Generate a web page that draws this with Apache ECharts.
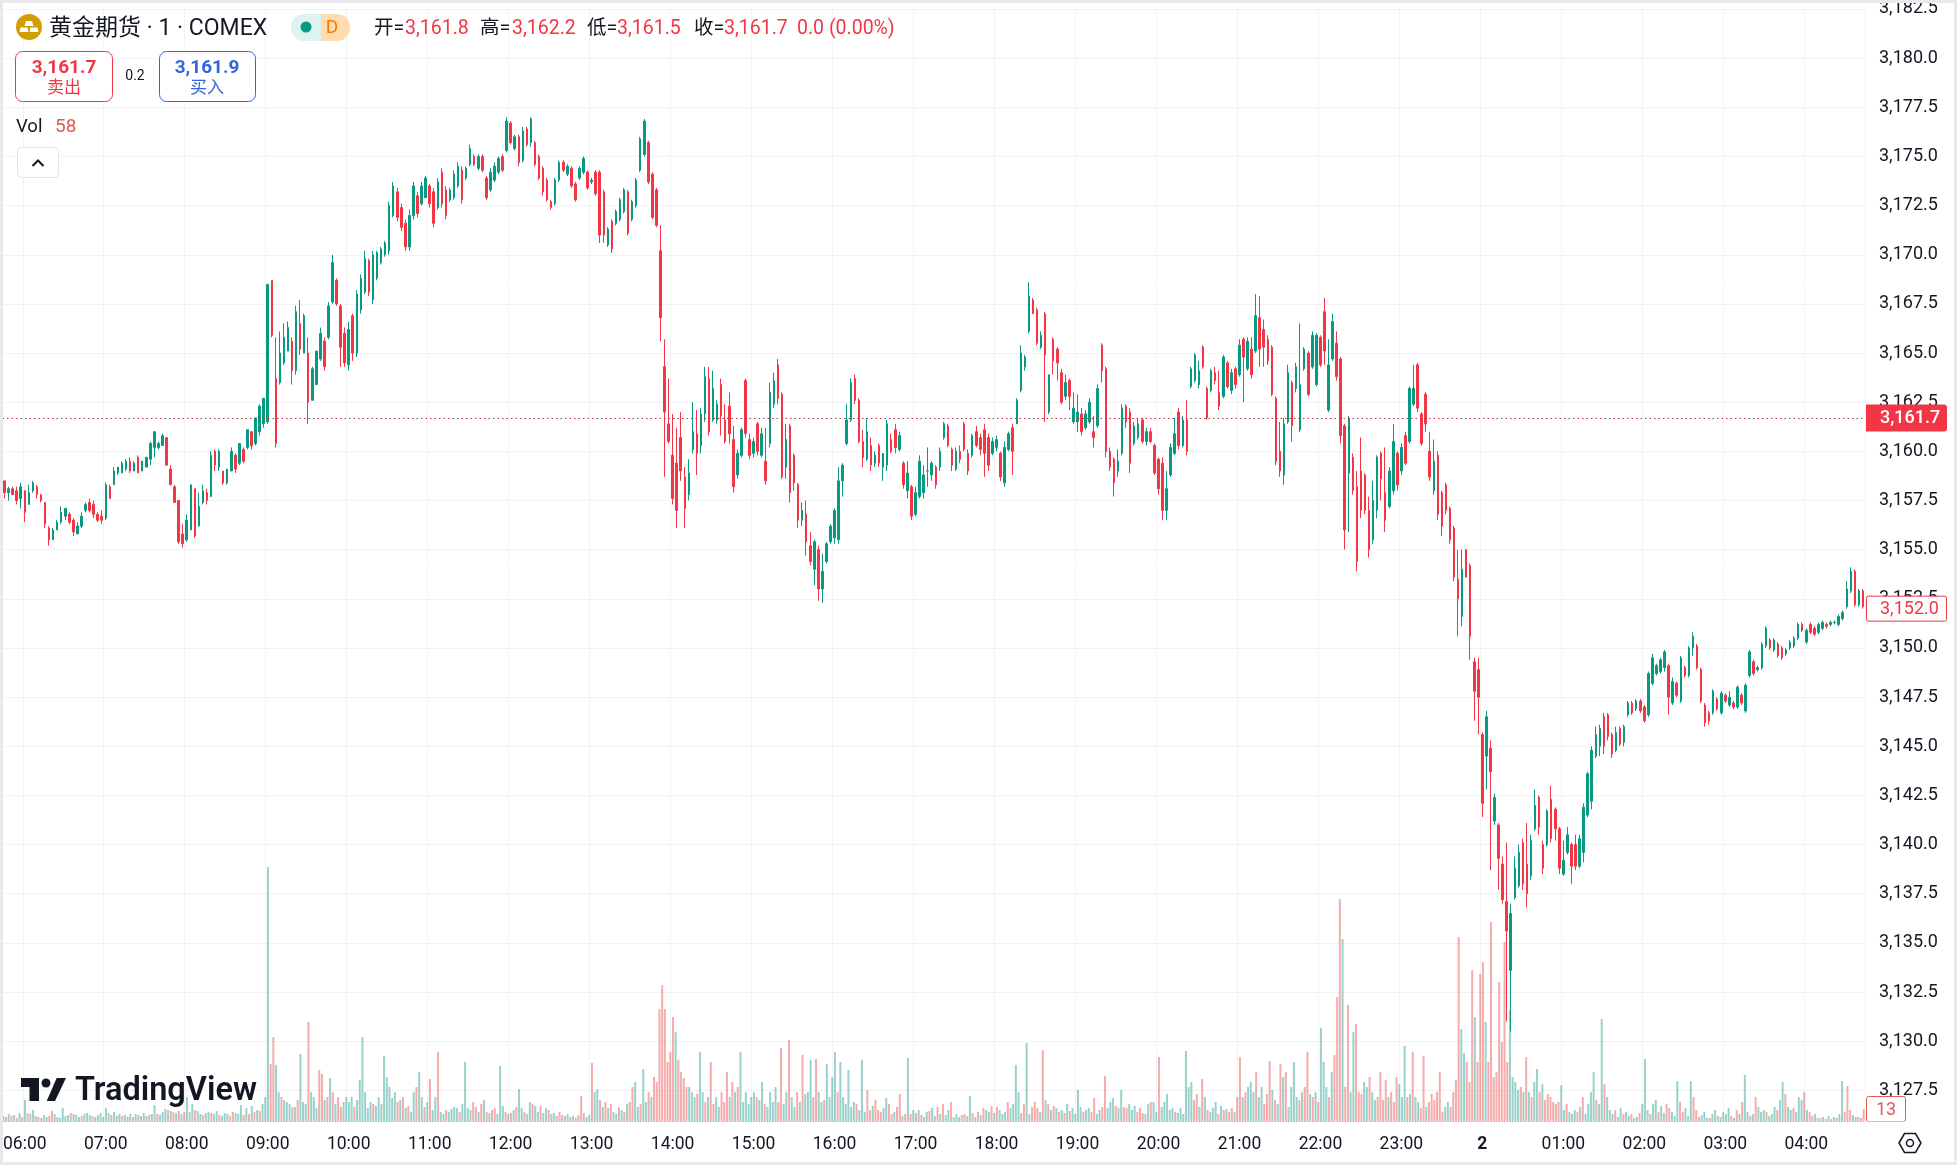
<!DOCTYPE html>
<html>
<head>
<meta charset="utf-8">
<title>黄金期货</title>
<style>
html,body{margin:0;padding:0;background:#fff;overflow:hidden}
#chart{width:1957px;height:1165px}
#frame{position:absolute;left:0;top:0;width:1957px;height:1165px;box-sizing:border-box;border:3px solid #e9e9ea;pointer-events:none}
</style>
<script src="https://cdn.jsdelivr.net/npm/echarts@6/dist/echarts.min.js"></script>
</head>
<body>
<div id="chart"></div>
<div id="frame"></div>
<script>
// candle rows are [open, close, low, high], minus basePrice, one row per 3 minutes, grouped roughly by hour
var basePrice = 3100;
var bars05 = [[58.5,57.9,57.6,58.5],[57.9,58.1,57.5,58.2],[58.1,57.8,57.8,58.2],[58,57.5,57.3,58.2],[57.6,58.2,57.1,58.4]];
var bars06 = [[58,56.9,56.4,58],[57.3,57.9,57.3,58.3],[58,58.4,57.9,58.5],[58.2,57.8,57.6,58.3],[57.8,57.5,57.4,57.8],[57.4,56.3,56.1,57.4],[56.1,55.5,55.2,56.2],[55.5,56,55.5,56.1],[56,56.4,56.1,56.5],[56.4,56.9,56.3,57.2],[56.7,57.1,56.5,57.1],[56.8,56.4,56.3,56.9],[56.5,55.9,55.7,56.6],[55.8,56.2,55.9,56.4],[56.2,56.7,56.1,56.9],[57,57.3,56.9,57.4],[57.4,57,56.9,57.6],[57.3,56.8,56.6,57.5],[56.8,56.5,56.4,56.9],[56.7,56.5,56.3,57]];
var bars07 = [[56.6,58.3,56.5,58.4],[58.2,57.6,57.6,58.3],[58.3,59,58.3,59.2],[58.9,59.2,58.8,59.2],[58.9,59.4,58.9,59.5],[59.1,59.5,59,59.6],[59.5,59,58.9,59.7],[59,59.4,59,59.5],[59.7,58.9,58.9,59.8],[59,59.5,59,59.5],[59.2,59.7,59.2,59.7],[59.6,60.4,59.3,60.5],[60.2,61,59.7,61],[60.2,60.4,60.1,60.5],[60.3,60.8,60.3,60.9],[60.7,59.3,59.3,60.7],[59.1,58.3,58.3,59.3],[58.2,57.4,57.4,58.3],[57.5,55.4,55.3,57.5],[55.8,55.3,55.1,56.3]];
var bars08 = [[55.5,56.5,55.4,56.8],[56,58.3,56,58.3],[58.1,55.7,55.6,58.1],[56.2,57.2,56.2,57.9],[57.4,58,57.3,58.3],[57.9,57.5,57.3,58.1],[57.7,59.8,57.7,60],[60,59.3,59,60.1],[59.2,60,59,60.1],[59,58.4,58.3,59],[58.4,59.1,58.3,59.1],[59,60,59,60.2],[59.8,59.1,58.9,59.9],[59.4,60.4,59.3,60.4],[60.1,59.5,59.4,60.2],[60.2,61.1,60.1,61.1],[61,60.3,60.1,61],[60.4,61.7,60.3,61.7],[61,62.3,60.8,62.4],[61.4,62.7,61.2,62.7]];
var bars09 = [[61.5,68.5,61.4,68.5],[68.7,65.9,65.8,68.7],[63.7,60.4,60.2,65.8],[63.5,65,63.4,66.1],[64.5,65.8,64.4,66.5],[65.1,66.3,65.1,66.6],[65.6,64.1,63.4,65.8],[64.1,67.1,63.9,67.4],[66.5,65.2,64.9,67.7],[65,66.9,65,67],[65,62.5,61.4,65.8],[62.6,64.2,62.6,64.3],[63.4,65.1,63.4,65.1],[64.7,66,64.6,66.3],[65.6,64.3,64.1,65.8],[65.8,67.4,65.7,67.6],[67.6,69.6,67.5,70],[68.7,67.5,67.4,68.8],[67.4,65.3,64.3,67.5],[66,64.5,64.3,66.3]];
var bars10 = [[64.4,66.2,64.1,66.6],[66.9,65,64.6,67],[65,68,64.8,68.2],[67.2,68.8,67,69],[68.1,69.8,68,70.2],[69.7,68.1,67.9,69.8],[67.7,70,67.5,70.2],[68.8,70.1,68.7,70.2],[69.6,70.3,69.5,70.4],[70,70.6,69.9,70.7],[70.2,72.5,70,72.7],[72,73.5,71.9,73.7],[73.2,71.9,71.7,73.4],[72.4,71.4,71.2,72.6],[71.6,70.4,70.2,71.8],[70.4,72,70.2,72.3],[72,73.5,71.8,73.7],[73,72.1,71.9,73.2],[72.6,73.5,72.5,73.7],[72.9,73.9,72.9,74]];
var bars11 = [[73.5,72.6,72.4,73.6],[73.2,71.6,71.4,73.4],[72.4,73.7,72.3,73.9],[74.2,72.6,72.4,74.4],[73.3,72,71.8,73.5],[72.8,73.3,72.7,73.4],[72.9,74.1,72.8,74.3],[73.5,74.5,73.4,74.7],[74.3,72.8,72.6,74.5],[73.9,74.4,73.8,74.5],[74.6,75.4,74.5,75.6],[75,74.6,74.5,75.1],[74.4,75,74.3,75.1],[75,74.3,74.2,75.1],[73.9,72.9,72.8,74],[73.3,74.2,73.2,74.4],[73.8,74.5,73.7,74.7],[74.2,74.9,74.1,75],[75,74.3,74.2,75.1],[75.3,76.8,75.2,77]];
var bars12 = [[76.7,75.7,75.6,76.8],[75.4,76,75.3,76.1],[76,74.7,74.5,76.1],[74.8,76.3,74.7,76.5],[76.4,75.6,75.5,76.5],[75.7,76.9,75.5,77],[75.7,74.6,74.5,75.8],[75,73.9,73.8,75.1],[74.4,73.2,73,74.5],[73.8,72.8,72.7,73.9],[72.7,72.4,72.3,72.8],[72.6,73.8,72.5,73.9],[73.8,74.7,73.7,74.8],[74.7,74.3,74.2,74.8],[74.1,74.5,74,74.6],[74.4,73.5,73.4,74.5],[73.6,72.8,72.7,73.7],[73.9,74.4,73.8,74.5],[74.2,74.9,74.1,75],[74.2,73.4,73.3,74.3]];
var bars13 = [[73.7,73.8,73.6,73.9],[74.2,73.1,73,74.3],[74.2,71,70.6,74.3],[73.2,71,70.6,73.3],[70.5,71.3,70.4,71.4],[71.7,70.3,70.1,71.8],[71.6,72.2,71.5,72.3],[71.8,72.8,71.7,72.9],[72.2,73.3,72.1,73.4],[73.2,71.1,71,73.3],[71.8,72.7,71.7,72.8],[72.5,73.8,72.4,73.9],[74.3,75.9,74.2,76],[75.1,76.8,75,76.9],[75.7,73.7,73.6,75.8],[74.1,71.9,71.8,74.2],[73.3,71.5,71.4,73.4],[70.2,66.8,65.6,71.5],[64.3,62,58.7,65.7],[61.4,60.5,60.4,63.7]];
var bars14 = [[59.8,57.6,57.3,61.9],[59.4,57,56.1,61.2],[60.7,59,58.5,62],[58.7,57.1,56.1,59.2],[57.8,58.9,57.5,59.6],[60.1,61,59.9,62.5],[60.9,59.9,58.8,62.1],[60.3,61.9,59.9,62.2],[61.9,63.8,61.5,64.3],[63.7,61,60.8,64.3],[61.6,63.2,61.5,64.1],[61.6,62.4,61.4,62.6],[63.4,61.8,60.8,63.7],[61.6,60.5,60.4,62.4],[62.3,60.9,60.4,63],[60.6,58.2,57.9,61.3],[58.8,59.9,58.6,60.1],[59.8,61.1,59.7,61.2],[63.6,60.9,60.7,63.7],[60.6,59.8,59.6,60.9]];
var bars15 = [[59.9,60.5,59.7,60.7],[61.4,60,59.8,61.5],[59.8,60.9,59.7,61.2],[59.5,58.5,58.3,61.2],[60.4,63,60.2,63.5],[62.4,63.6,62.2,64],[64.4,62.7,62.4,64.7],[62.9,58.7,58.6,63],[59.2,60.6,58.6,61.4],[61.3,57.9,57.4,61.4],[59.8,58.4,58,59.9],[58.3,56.5,56.1,58.4],[56.5,57,56.2,57.4],[56.8,55.4,54.7,57.5],[55.2,54.4,54.2,55.9],[54,55.4,53.2,55.5],[55,53,52.4,55.2],[53,53.9,52.3,54.8],[54.4,55.3,54.3,55.4],[55.4,56.2,55.3,56.3]];
var bars16 = [[55.6,57,55.3,57.1],[55.5,58.5,55.3,59.2],[58.5,59.3,57.7,59.4],[60.4,61.6,60.3,62.4],[61.6,63.5,61.5,63.7],[63.7,62.6,62.4,63.9],[62.6,60.5,60.4,62.7],[60.5,59.7,59.2,61.1],[59.6,61,59.5,61.7],[60.3,59.3,59,60.7],[59.4,59.8,59.2,60],[60.3,59.4,59.2,60.4],[59.2,59.9,58.5,59.9],[59.3,61.4,59,61.6],[60.6,60,59.9,60.9],[61.1,60.2,59.9,61.4],[60.1,60.8,60,61],[59.4,58.3,58.1,59.5],[58,58.9,57.6,59.5],[58.2,56.7,56.5,58.3]];
var bars17 = [[56.8,57.9,56.7,58.2],[57.7,59.5,57.6,59.8],[57.9,58.8,57.6,59.3],[59,59,58.2,60.2],[58.8,59.4,58.5,59.5],[59.2,58.3,58.1,59.3],[59.2,60,59,60.2],[60.7,61.4,60.6,61.5],[61.3,60.3,60.2,61.4],[60.1,59.3,59,60.2],[59.1,60,59,60.2],[60,59.6,59.4,60.3],[61.4,60.1,60,61.5],[59.9,59,58.8,60.1],[59.8,60.8,59.7,60.9],[61,60.3,60.2,61.3],[60.7,60.1,59.8,60.9],[61.1,59.9,58.7,61.4],[60.7,59.3,59,60.9],[59.9,60.5,59.8,60.7],[60.2,60.6,60,60.8]];
var bars18 = [[59.9,58.7,58.5,60],[58.4,60.2,58.2,60.5],[60.1,60.9,60,61],[61.2,60,58.8,61.4],[61.4,62.6,61.4,62.7],[63.1,65,63,65.4],[64.3,64.8,64.1,64.9],[66.1,67.9,66,68.6],[67.7,67,67,67.8],[67.2,65.5,65.4,67.3],[65.3,65.9,65.2,66.1],[67,64.9,61.5,67.1],[62,63.9,61.9,63.9],[65.7,64.6,63.9,65.8],[65.2,64.5,63.6,65.3],[64,62.5,62.4,64.2],[62.8,63.5,62.6,63.9],[63.6,62.8,62.1,63.7],[61.5,62.2,61.4,63],[61.5,62,61,62.9]];
var bars19 = [[61.9,61,60.8,62.2],[61.2,61.9,61.1,62.1],[61.5,62.5,61.4,62.7],[61,60.7,60.2,61.8],[61.3,63.2,61.2,63.4],[65.4,64.1,63.5,65.5],[64.2,60,59.7,64.3],[60,59.2,59,60.2],[59.6,58.4,57.7,59.7],[59,59.5,58.7,60.1],[59.9,62.2,59.8,62.4],[62.3,61.5,61.2,62.4],[62,59.4,58.9,62.2],[60.4,61.3,60.3,61.5],[60.7,61.4,60.6,61.7],[61.6,60.5,60.4,61.7],[60.5,61,60.3,61.2],[61,60.5,60.4,61.2],[60.3,58.9,58.8,60.4],[59.6,58.1,57.8,59.7],[59.4,57,56.5,59.7]];
var bars20 = [[57,58.1,56.5,59],[58.8,60.2,58.7,60.4],[59.9,60.9,59.8,61.7],[62,60.3,60.1,62.2],[60.3,61.6,60.2,61.8],[61.6,60,59.8,62.6],[63.3,64.2,63.2,64.3],[63.6,64.9,63.5,65],[63.4,64.1,63.2,64.6],[65.3,64.3,64.2,65.4],[63.2,61.7,61.6,63.3],[63.1,64.1,63,64.2],[64,63.6,63.4,64.3],[63,62.3,62.1,64.1],[62.8,64.8,62.7,64.9],[64.5,63.3,63.2,64.6],[63.1,64,62.9,64.2],[64.2,63.4,63.2,64.3],[63.9,65.4,63.8,65.7],[65.7,64.8,62.5,65.8],[64.2,65.6,64.1,65.8]];
var bars21 = [[65.2,63.9,63.7,65.8],[65.1,66.9,65,68],[66.8,65.2,64.3,67.9],[66.2,65.3,64.3,66.7],[65.7,64.6,64.4,65.9],[65.3,62.9,62.8,65.4],[62.7,59.5,59.3,62.8],[60,59,58.7,61.5],[58.8,61.4,58.3,61.7],[61.5,64,61.4,64.4],[63.5,61.3,60.5,63.6],[63.2,64.3,63,64.5],[61.1,63.4,61,66.5],[64.2,65.2,64.1,65.3],[65,62.9,62.8,65.1],[64.3,65.9,64.2,66.1],[63.4,65.9,63.3,66],[65.8,64.4,64.3,65.9],[67.1,65.1,64.4,67.8],[62.1,64.4,62,65.7],[64.7,66.6,64.6,67]];
var bars22 = [[65.5,63.8,63.6,66.1],[64.7,60.8,60.4,64.8],[61.3,56,55,61.4],[58.9,61.7,55.9,61.8],[59.7,58,57.8,59.9],[58.2,54.4,53.9,59],[59,57,56.6,60.7],[58.8,57,56.8,58.9],[57,55,54.6,57.7],[55.5,57.5,55.3,58.5],[57,59.7,56.6,59.8],[59.9,58.6,57.5,60],[57.9,56.5,55.9,60.2],[57.2,59,57.1,59.2],[58,60.5,57.8,61.4],[59.9,58.3,58,60],[59,60.2,58.8,60.4],[60.8,59.4,59.3,61],[60.5,63.2,60.4,63.3],[62.4,63.2,62.3,64.4]];
var bars23 = [[64.4,62.2,62,64.5],[61.9,60.4,60.3,62],[62.9,61.4,61,63],[60,58.7,58.5,61],[58,59.5,57.8,60.6],[59.8,56.8,56.5,60],[57.9,56.2,55.7,58],[58.3,57,56.8,58.4],[57.1,55.5,55.3,57.2],[56.1,53.6,53.4,56.2],[53.5,52.5,50.6,55],[51.6,54,51.1,55],[55,53.6,53.6,55],[54.2,50.6,49.4,54.3],[49.3,47.8,46.3,49.5],[48.9,47.5,45.6,49.5]];
var bars00 = [[45.6,42.1,41.4,45.7],[44.5,46.5,42.8,46.8],[44.9,43.7,38.7,45.3],[41.2,42.4,41,42.6],[41,39.3,37.7,41.1],[39,37.2,37,39.4],[37.1,35.6,31,40.1],[33.6,36.5,30.5,37],[37.3,38.8,37.2,39.4],[37.9,39.6,37.8,40],[40.1,38,37.7,40.3],[39,37.5,36.8,41.1],[38.4,40.2,38.2,40.5],[40.8,42,40.7,42.8],[42.4,40.9,40.5,42.5],[40,38.8,38.5,40.2],[40,41.7,39.9,41.8],[42.3,40.3,40.1,43],[41.8,40.8,40.2,41.9],[40.8,38.8,38.5,40.9]];
var bars01 = [[38.5,39.2,38.4,40.2],[39.6,40.5,39.5,40.9],[40,38.9,38,40.1],[40,38.9,38.7,40.5],[38.9,40.3,38.8,40.5],[39.6,41.9,39.1,42.1],[41.5,43.6,41.4,43.7],[42.2,44.8,41.8,45],[44.5,45.6,44.4,46],[45,45.9,44.5,46.1],[46.5,45,44.6,46.7],[46.6,45.5,45.3,46.7],[45.6,44.6,44.4,45.7],[44.8,45.7,44.7,46],[45.9,45.1,45,46],[45.2,46,45,46.1],[46.6,47.2,46.5,47.3],[47.2,46.7,46.6,47.3],[46.9,47.3,46.8,47.4],[47.3,46.8,46.7,47.4]];
var bars02 = [[47,46.3,46.2,47.1],[46.6,48.7,46.5,48.8],[48.2,49.5,48.1,49.7],[48.7,49.1,48.6,49.2],[48.8,49.4,48.7,49.5],[49,49.8,48.8,49.9],[49.1,47.5,46.6,49.2],[47.2,48.3,47.1,48.5],[48.2,47.6,47.5,48.3],[47.3,49.5,47.2,49.6],[49,48.6,48.5,49.1],[48.6,50,48.5,50.1],[50,50.6,49.6,50.8],[50.1,49,48.9,50.2],[48.9,47.3,47.2,49],[47.1,46.2,46,47.2],[46.7,46.3,46.1,46.8],[46.7,47.8,46.6,47.9],[47.4,46.9,46.8,47.5],[46.7,47.7,46.6,47.8]];
var bars03 = [[47.6,47.3,47.2,47.7],[47.1,47.5,47,47.8],[47.2,47,46.9,47.3],[47,48,46.9,48.1],[47.6,47.2,47.1,47.7],[46.8,48.1,46.7,48.2],[48.6,49.8,48.5,49.9],[49.3,48.7,48.6,49.4],[48.9,49,48.8,49.1],[49,50.2,48.9,50.3],[50.1,51,50,51.1],[50.4,50,49.9,50.5],[49.9,50.4,49.8,50.5],[50.2,49.6,49.5,50.3],[50,49.5,49.4,50.1],[49.7,49.9,49.6,50],[50,50.3,49.9,50.4],[50.1,50.5,50,50.6],[50.5,51.2,50.4,51.3],[51.2,50.9,50.8,51.3]];
var bars04 = [[50.3,50.9,50.2,51],[51.2,50.8,50.7,51.3],[51,50.7,50.6,51.1],[50.8,51.2,50.7,51.3],[51,51.3,50.9,51.4],[51.2,51.1,51,51.3],[51.2,51.3,51.1,51.4],[51.3,51.3,51.2,51.4],[51.2,51.6,51.1,51.7],[51.5,51.8,51.4,51.9],[52.1,53,52,53.4],[52.9,53.9,52.8,54.1],[53.9,52.2,52.1,54],[52.2,52.9,52.1,53],[52.9,52.1,52,53]];

// volumes per 2 minutes; negative means a down bar
var volumes05 = [6,-5,8,-6,7,-4,9,-5];
var volumes06 = [22,-9,8,12,-6,5,-4,7,5,-6,-11,8,5,4,14,6,7,-9,8,7,5,-6,8,9,7,-6,5,7,9,5];
var volumes07 = [14,9,-7,10,6,8,-6,7,5,8,-5,8,-7,6,9,6,-7,8,17,-8,7,10,13,-12,11,-10,9,-11,8,-10];
var volumes08 = [25,10,18,-12,11,8,-7,9,10,-9,8,11,-7,6,9,8,-6,-10,9,8,17,-7,14,-8,16,-10,12,-11,18,25];
var volumes09 = [255,-58,-85,57,30,-25,22,20,18,-15,15,-22,68,20,18,-100,30,25,14,-52,-48,22,-25,44,-30,18,-25,-15,20,25];
var volumes10 = [20,25,-15,22,42,85,30,14,20,-18,16,25,18,66,45,35,24,30,-20,22,-25,14,-16,10,30,-35,50,25,-15,20];
var volumes11 = [-43,12,25,-70,10,8,-12,10,13,15,14,-10,18,60,14,12,-20,-15,10,-18,22,-10,9,-12,-14,8,56,16,-10,8];
var volumes12 = [-9,12,-15,33,14,-10,8,20,-18,16,10,-16,9,14,-12,8,9,-6,-10,-7,6,8,-5,6,4,-7,-26,-9,5,7];
var volumes13 = [-59,30,33,-22,15,-20,14,-18,10,8,-15,12,-10,18,-20,-35,40,15,-18,53,20,-30,25,-45,-40,-113,-137,-113,-60,-70];
var volumes14 = [-105,90,-62,-50,-44,-35,35,30,25,-28,70,30,-20,25,-60,-18,25,15,-30,-20,-50,25,-40,30,-35,70,20,30,18,25];
var volumes15 = [30,-25,22,40,-18,15,30,20,35,-20,-74,18,30,-82,25,15,-30,20,-67,28,30,62,-25,-63,30,20,-22,58,25,45];
var volumes16 = [70,-30,60,25,18,52,15,20,-18,12,62,10,-32,-12,16,-22,-12,-10,14,24,-18,-8,10,-15,-28,6,-8,64,-8,12];
var volumes17 = [-9,12,-7,5,10,-11,14,6,-15,8,-18,7,12,-20,5,8,5,-7,-8,6,26,-9,5,-10,7,-14,12,10,-16,9];
var volumes18 = [-15,12,8,10,-20,14,18,57,30,-9,-18,79,8,-15,-20,-14,10,-72,22,-18,12,-16,14,-10,12,-9,18,-11,14,8];
var volumes19 = [32,15,-10,12,14,-10,-24,8,12,-15,-46,14,20,24,-16,14,32,-15,-14,18,12,16,-10,-14,-9,8,18,-20,20,10];
var volumes20 = [-65,15,20,28,12,14,-10,9,14,8,71,35,40,-22,-28,15,-43,25,-12,10,14,20,-8,16,-12,13,-10,-14,10,-25];
var volumes21 = [-65,25,-30,35,40,30,-50,25,35,-18,-28,-61,32,-22,18,-58,45,-50,15,35,60,25,-22,30,-35,-70,28,-25,30,-20];
var volumes22 = [94,60,35,-25,50,-67,-125,-223,183,-35,-117,30,90,-98,-30,-28,40,35,-45,30,22,-25,-50,-22,-42,25,-30,-20,-45,38];
var volumes23 = [25,76,-25,28,-70,25,20,-14,-66,15,-20,-28,-22,-30,-50,-10,15,20,-15,-30,-42,-185,93,69,-60,-40,-152,105,-60,-148];
var volumes00 = [-160,100,-60,-200,-45,-50,-140,-80,-180,-60,112,45,40,32,-35,30,-65,30,-25,40,53,-30,38,-22,-28,-25,-20,-18,-20,37];
var volumes01 = [12,-18,10,8,12,-10,15,-25,8,18,30,50,-22,18,103,-38,25,12,8,-12,5,14,-8,10,6,-8,4,5,-9,18];
var volumes02 = [63,12,-8,18,22,-10,16,9,-18,-14,10,6,41,-20,-10,14,6,41,-25,-12,-5,7,10,4,-4,8,12,-6,5,10];
var volumes03 = [8,14,-6,4,-12,8,-20,47,10,-6,8,-25,15,10,12,-10,6,8,15,-12,22,40,-28,15,12,-14,10,25,22,-30];
var volumes04 = [12,-10,-6,8,4,-4,5,-3,6,3,5,-4,8,41,-10,-36,-12,7,5,-5,-4,-13];

var priceTicks = [3127.5,3130,3132.5,3135,3137.5,3140,3142.5,3145,3147.5,3150,3152.5,3155,3157.5,3160,3162.5,3165,3167.5,3170,3172.5,3175,3177.5,3180,3182.5];
var lastPrice = 3161.7;
var tagPrice = 3152.0;
var lastVolume = 13;

var UP = '#089981', DOWN = '#f23645', TEXT = '#131722', GRID = '#f2f3f5', VOL_RED = '#e05a5a';
var FONT = 'Roboto, "Noto Sans CJK SC", sans-serif';

var allBars = [].concat(bars05,bars06,bars07,bars08,bars09,bars10,bars11,bars12,bars13,bars14,bars15,bars16,bars17,bars18,bars19,bars20,bars21,bars22,bars23,bars00,bars01,bars02,bars03,bars04);
var allVolumes = [].concat(volumes05,volumes06,volumes07,volumes08,volumes09,volumes10,volumes11,volumes12,volumes13,volumes14,volumes15,volumes16,volumes17,volumes18,volumes19,volumes20,volumes21,volumes22,volumes23,volumes00,volumes01,volumes02,volumes03,volumes04);

var candleData = allBars.map(function (b) {
    return [basePrice + b[0], basePrice + b[1], basePrice + b[2], basePrice + b[3]];
});
var volumeData = allVolumes.map(function (v) {
    return { value: Math.abs(v), itemStyle: { color: v < 0 ? 'rgba(235,90,90,.5)' : 'rgba(40,160,145,.47)' } };
});

// category names: row 5 is 06:00, one row every 3 minutes
var timeNames = allBars.map(function (b, i) {
    var mins = (360 + (i - 5) * 3 + 1440) % 1440;
    var h = Math.floor(mins / 60), m = mins % 60;
    return (h < 10 ? '0' : '') + h + ':' + (m < 10 ? '0' : '') + m;
});
function isHour(i) { return i % 20 === 5; }
function priceText(v) {
    return v.toLocaleString('en-US', { minimumFractionDigits: 1, maximumFractionDigits: 1 });
}
function txt(x, y, text, color, size, weight, align) {
    return { type: 'text', z: 50, x: x, y: y, silent: true, style: {
        text: text, fill: color, font: (weight || 'normal') + ' ' + size + 'px ' + FONT,
        textAlign: align || 'left', textVerticalAlign: 'middle'
    } };
}
function box(x, y, w, h, r, stroke, fill) {
    return { type: 'rect', z: 49, silent: true, shape: { x: x, y: y, width: w, height: h, r: r },
        style: { stroke: stroke, fill: fill || '#fff', lineWidth: 1 } };
}

var overlay = [
    // header
    { type: 'circle', z: 49, silent: true, shape: { cx: 29, cy: 27, r: 13 }, style: { fill: '#d39e00' } },
    { type: 'polygon', z: 50, silent: true, shape: { points: [[26,21],[32,21],[33.5,26],[24.5,26]] }, style: { fill: '#fff' } },
    { type: 'polygon', z: 50, silent: true, shape: { points: [[20.5,27.5],[27.5,27.5],[28.5,32],[19.5,32]] }, style: { fill: '#fff' } },
    { type: 'polygon', z: 50, silent: true, shape: { points: [[30.5,27.5],[37.5,27.5],[38.5,32],[29.5,32]] }, style: { fill: '#fff' } },
    txt(49, 29, '黄金期货 · 1 · COMEX', TEXT, 23),
    { type: 'rect', z: 49, silent: true, shape: { x: 291, y: 14, width: 30, height: 27, r: [13,0,0,13] }, style: { fill: '#def3ef' } },
    { type: 'rect', z: 49, silent: true, shape: { x: 321, y: 14, width: 29, height: 27, r: [0,13,13,0] }, style: { fill: '#ffdcb0' } },
    { type: 'circle', z: 50, silent: true, shape: { cx: 306, cy: 27, r: 5.5 }, style: { fill: UP } },
    txt(332, 28, 'D', '#f57c00', 19, 'normal', 'center'),
    txt(374, 29, '开=', TEXT, 19.5), txt(405, 29, '3,161.8', DOWN, 19.5),
    txt(480, 29, '高=', TEXT, 19.5), txt(512, 29, '3,162.2', DOWN, 19.5),
    txt(587, 29, '低=', TEXT, 19.5), txt(617, 29, '3,161.5', DOWN, 19.5),
    txt(694, 29, '收=', TEXT, 19.5), txt(724, 29, '3,161.7', DOWN, 19.5),
    txt(797, 29, '0.0 (0.00%)', DOWN, 19.5),
    // sell and buy boxes
    box(15.5, 51.5, 97, 50, 7, DOWN),
    txt(64, 68, '3,161.7', DOWN, 19, 'bold', 'center'),
    txt(64, 89, '卖出', DOWN, 17, 'normal', 'center'),
    txt(135, 76, '0.2', TEXT, 14, 'normal', 'center'),
    box(159.5, 51.5, 96, 50, 7, '#2f66d8'),
    txt(207, 68, '3,161.9', '#2f66d8', 19, 'bold', 'center'),
    txt(207, 89, '买入', '#2f66d8', 17, 'normal', 'center'),
    // volume legend
    txt(16, 127, 'Vol', TEXT, 18.5),
    txt(55, 127, '58', VOL_RED, 19),
    box(17.5, 147.5, 41, 30, 4, '#e0e3eb'),
    { type: 'polyline', z: 50, silent: true, shape: { points: [[32.5,166],[38,160.5],[43.5,166]] }, style: { stroke: TEXT, lineWidth: 2, fill: 'none' } },
    // TradingView logo
    { type: 'polygon', z: 50, silent: true, shape: { points: [[21,1078],[39,1078],[39,1101],[29.5,1101],[29.5,1087],[21,1087]] }, style: { fill: '#131722' } },
    { type: 'circle', z: 50, silent: true, shape: { cx: 46, cy: 1083, r: 4.5 }, style: { fill: '#131722' } },
    { type: 'polygon', z: 50, silent: true, shape: { points: [[56.7,1078],[66,1078],[55,1101],[46.7,1101]] }, style: { fill: '#131722' } },
    txt(75, 1092, 'TradingView', '#131722', 32.5, '600'),
    // settings icon
    { type: 'polygon', z: 50, silent: true, shape: { points: [[1899,1143],[1904.5,1133.5],[1915.5,1133.5],[1921,1143],[1915.5,1152.5],[1904.5,1152.5]] }, style: { stroke: TEXT, lineWidth: 1.5, fill: 'none' } },
    { type: 'circle', z: 50, silent: true, shape: { cx: 1910, cy: 1143, r: 3.5 }, style: { stroke: TEXT, lineWidth: 1.5, fill: 'none' } }
];

var chart = echarts.init(document.getElementById('chart'), null, { renderer: 'canvas' });
chart.setOption({
    animation: false,
    backgroundColor: '#fff',
    textStyle: { fontFamily: FONT },
    grid: [
        { left: 2, right: 92, top: 3, bottom: 43 },
        { left: 2, right: 92, top: 866, bottom: 43 }
    ],
    xAxis: [
        {
            type: 'category', gridIndex: 0, data: timeNames,
            axisLine: { show: false }, axisTick: { show: false },
            splitLine: { show: true, interval: function (i) { return isHour(i); }, lineStyle: { color: GRID, width: 1 } },
            axisLabel: {
                interval: function (i) { return isHour(i); },
                color: TEXT, fontSize: 17.5, margin: 14, fontFamily: FONT,
                formatter: function (v) { return v === '00:00' ? '{b|2}' : v; },
                rich: { b: { fontWeight: 'bold', fontSize: 17.5, color: TEXT } }
            }
        },
        { type: 'category', gridIndex: 1, data: allVolumes.map(function (v, i) { return i; }), show: false }
    ],
    yAxis: [
        {
            type: 'value', gridIndex: 0, position: 'right', min: 3125.89, max: 3182.69,
            axisLine: { show: false },
            axisTick: { show: false, customValues: priceTicks },
            splitLine: { show: true, lineStyle: { color: GRID, width: 1 } },
            axisLabel: {
                customValues: priceTicks, color: TEXT, fontSize: 18, margin: 14, fontFamily: FONT,
                showMinLabel: true, showMaxLabel: true, hideOverlap: false,
                formatter: function (v) { return priceText(v); }
            }
        },
        { type: 'value', gridIndex: 1, min: 0, max: 256, show: false }
    ],
    series: [
        {
            type: 'bar', name: 'Vol', xAxisIndex: 1, yAxisIndex: 1, z: 1, silent: true,
            barWidth: 2, data: volumeData
        },
        {
            type: 'candlestick', name: '黄金期货', xAxisIndex: 0, yAxisIndex: 0, z: 3, silent: true,
            barWidth: 2, data: candleData,
            itemStyle: { color: UP, color0: DOWN, borderColor: UP, borderColor0: DOWN, borderWidth: 1 },
            markLine: {
                silent: true, symbol: 'none', animation: false, label: { show: false },
                data: [{ yAxis: lastPrice, lineStyle: { color: '#b8303f', type: [1.5, 3], width: 1 } }]
            }
        }
    ]
});

// price and volume tags sit on the scales, so read their y from the axes
var lastY = chart.convertToPixel({ yAxisIndex: 0 }, lastPrice);
var tagY = chart.convertToPixel({ yAxisIndex: 0 }, tagPrice);
var volY = chart.convertToPixel({ yAxisIndex: 1 }, lastVolume);
var tags = [
    { type: 'rect', z: 49, silent: true, shape: { x: 1866, y: lastY - 13.5, width: 81, height: 27, r: [0,3,3,0] }, style: { fill: DOWN } },
    txt(1880, lastY + 1, priceText(lastPrice), '#fff', 18, '500'),
    box(1866.5, tagY - 12.5, 80, 25, 2, DOWN),
    txt(1880, tagY + 1, priceText(tagPrice), DOWN, 18),
    box(1866.5, volY - 12.5, 39, 25, 2, VOL_RED),
    { type: 'rect', z: 49, silent: true, shape: { x: 1867, y: 1121.5, width: 38, height: 2 }, style: { fill: '#fff' } },
    txt(1886, volY + 1, String(lastVolume), VOL_RED, 18, 'normal', 'center')
];
chart.setOption({ graphic: overlay.concat(tags) });
</script>
</body>
</html>
